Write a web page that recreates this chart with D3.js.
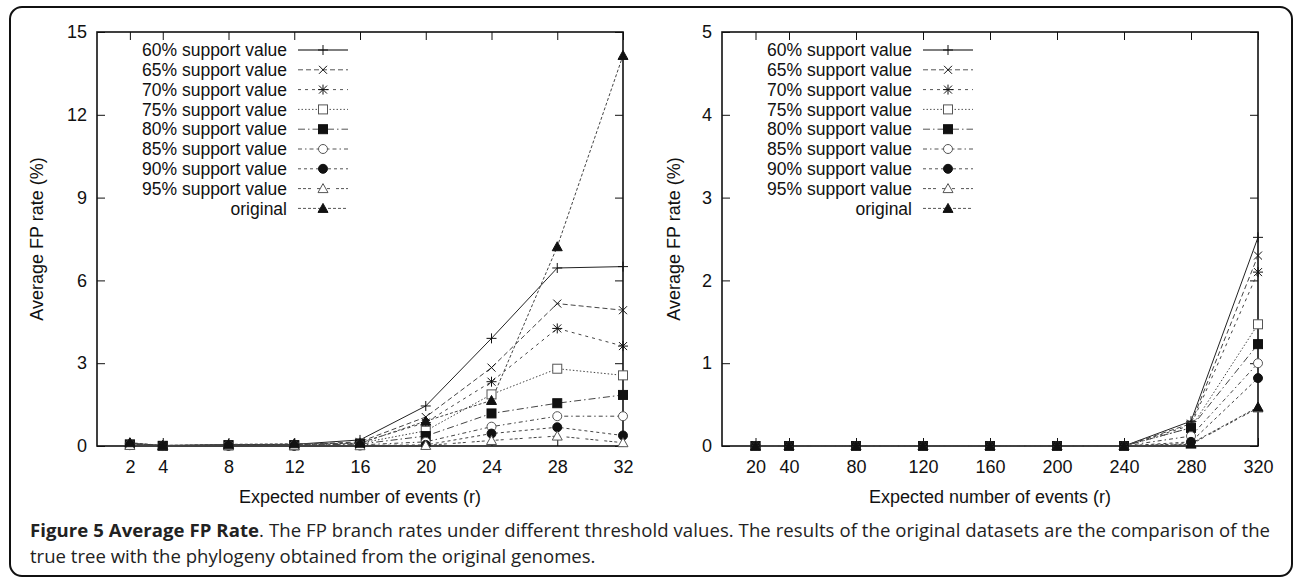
<!DOCTYPE html>
<html>
<head>
<meta charset="utf-8">
<script src="https://cdn.jsdelivr.net/npm/d3@7"></script>
<style>
body { margin: 0; background: #fff; }
svg { display: block; }
</style>
</head>
<body>
<div id="chart"></div>
<script>
//Datos
const seriesNames = ['60% support value', '65% support value', '70% support value', '75% support value',
    '80% support value', '85% support value', '90% support value', '95% support value', 'original'];

//Panel izquierdo
const leftEvents = [2, 4, 8, 12, 16, 20, 24, 28, 32];
const left60 = [0.10, 0.02, 0.05, 0.06, 0.22, 1.45, 3.90, 6.45, 6.50];
const left65 = [0.08, 0.01, 0.04, 0.05, 0.15, 1.05, 2.84, 5.16, 4.92];
const left70 = [0.07, 0.01, 0.04, 0.04, 0.12, 0.85, 2.33, 4.26, 3.62];
const left75 = [0.06, 0.01, 0.03, 0.03, 0.10, 0.55, 1.87, 2.80, 2.56];
const left80 = [0.05, 0.00, 0.03, 0.03, 0.07, 0.36, 1.18, 1.55, 1.85];
const left85 = [0.04, 0.00, 0.02, 0.02, 0.04, 0.15, 0.70, 1.08, 1.08];
const left90 = [0.03, 0.00, 0.01, 0.01, 0.02, 0.04, 0.45, 0.68, 0.38];
const left95 = [0.02, 0.00, 0.01, 0.01, 0.01, 0.02, 0.20, 0.36, 0.12];
const leftOrig = [0.12, 0.02, 0.06, 0.08, 0.10, 0.90, 1.65, 7.22, 14.15];
const leftYTicks = [0, 3, 6, 9, 12, 15];

//Panel derecho
const rightEvents = [20, 40, 80, 120, 160, 200, 240, 280, 320];
const right60 = [0, 0, 0, 0, 0, 0, 0, 0.30, 2.52];
const right65 = [0, 0, 0, 0, 0, 0, 0, 0.27, 2.30];
const right70 = [0, 0, 0, 0, 0, 0, 0, 0.25, 2.10];
const right75 = [0, 0, 0, 0, 0, 0, 0, 0.22, 1.47];
const right80 = [0, 0, 0, 0, 0, 0, 0, 0.22, 1.23];
const right85 = [0, 0, 0, 0, 0, 0, 0, 0.12, 1.00];
const right90 = [0, 0, 0, 0, 0, 0, 0, 0.05, 0.82];
const right95 = [0, 0, 0, 0, 0, 0, 0, 0.02, 0.46];
const rightOrig = [0, 0, 0, 0, 0, 0, 0, 0.03, 0.47];
const rightYTicks = [0, 1, 2, 3, 4, 5];

//Estilos de línea y símbolos (tipo gnuplot)
const DASHES = [null, '5,3', '3,4', '1.5,2', '7,3,1.5,3', '4,3,1.5,3', '3,3', '3,2,3,2,3,6', '3,2'];
const SYMBOLS = ['plus', 'cross', 'star', 'box', 'boxF', 'circle', 'circleF', 'tri', 'triF'];
const FONT = '"Liberation Sans", Arial, sans-serif';

let width = 1295, height = 579;

let svg = d3.select('#chart')
    .append('svg')
        .attr('width', width)
        .attr('height', height);

//Marco redondeado
svg.append('rect')
    .attr('x', 10).attr('y', 7)
    .attr('width', 1282).attr('height', 569)
    .attr('rx', 12).attr('ry', 12)
    .attr('fill', 'none')
    .attr('stroke', '#111')
    .attr('stroke-width', 2);

function drawSymbol(g, type, cx, cy) {
    let s = g.append('g').attr('transform', 'translate(' + cx + ',' + cy + ')');
    if (type == 'plus' || type == 'star') {
        s.append('path').attr('d', 'M-5,0H5M0,-5V5').attr('stroke', '#111').attr('fill', 'none');
    }
    if (type == 'cross' || type == 'star') {
        s.append('path').attr('d', 'M-4,-4L4,4M-4,4L4,-4').attr('stroke', '#111').attr('fill', 'none');
    }
    if (type == 'box' || type == 'boxF') {
        s.append('rect').attr('x', -4.5).attr('y', -4.5).attr('width', 9).attr('height', 9)
            .attr('stroke', type == 'box' ? '#555' : '#111')
            .attr('fill', type == 'box' ? '#fff' : '#111');
    }
    if (type == 'circle' || type == 'circleF') {
        s.append('circle').attr('r', 4.5)
            .attr('stroke', type == 'circle' ? '#555' : '#111')
            .attr('fill', type == 'circle' ? '#fff' : '#111');
    }
    if (type == 'tri' || type == 'triF') {
        s.append('path').attr('d', 'M0,-5L5,4H-5Z')
            .attr('stroke', type == 'tri' ? '#555' : '#111')
            .attr('fill', type == 'tri' ? '#fff' : '#111');
    }
}

function drawPanel(cfg) {
    let x = d3.scaleLinear().domain(cfg.xDomain).range([cfg.left, cfg.right]);
    let y = d3.scaleLinear().domain(cfg.yDomain).range([446, 32]);
    let g = svg.append('g');

    //Ejes con marcas hacia dentro (y espejo)
    g.append('g')
        .attr('transform', 'translate(0,446)')
        .call(d3.axisBottom(x).tickValues(cfg.xValues).tickSizeInner(-8).tickSizeOuter(0).tickPadding(14))
        .call(function(a) {
            a.select('.domain').remove();
            a.selectAll('text').attr('font-family', FONT).attr('font-size', '18px').attr('fill', '#111');
            a.selectAll('line').attr('stroke', '#111');
        });
    g.append('g')
        .attr('transform', 'translate(0,32)')
        .call(d3.axisTop(x).tickValues(cfg.xValues).tickSizeInner(-8).tickSizeOuter(0).tickFormat(''))
        .call(function(a) {
            a.select('.domain').remove();
            a.selectAll('line').attr('stroke', '#111');
        });
    g.append('g')
        .attr('transform', 'translate(' + cfg.left + ',0)')
        .call(d3.axisLeft(y).tickValues(cfg.yTicks).tickFormat(d3.format('d')).tickSizeInner(-8).tickSizeOuter(0).tickPadding(10))
        .call(function(a) {
            a.select('.domain').remove();
            a.selectAll('text').attr('font-family', FONT).attr('font-size', '18px').attr('fill', '#111');
            a.selectAll('line').attr('stroke', '#111');
        });
    g.append('g')
        .attr('transform', 'translate(' + cfg.right + ',0)')
        .call(d3.axisRight(y).tickValues(cfg.yTicks).tickSizeInner(-8).tickSizeOuter(0).tickFormat(''))
        .call(function(a) {
            a.select('.domain').remove();
            a.selectAll('line').attr('stroke', '#111');
        });

    //Caja del gráfico
    g.append('rect')
        .attr('x', cfg.left).attr('y', 32)
        .attr('width', cfg.right - cfg.left).attr('height', 414)
        .attr('fill', 'none').attr('stroke', '#111').attr('stroke-width', 1.6);

    //Títulos de ejes
    g.append('text')
        .attr('x', (cfg.left + cfg.right) / 2).attr('y', 503)
        .attr('text-anchor', 'middle')
        .attr('font-family', FONT).attr('font-size', '18px').attr('fill', '#111')
        .text('Expected number of events (r)');
    g.append('text')
        .attr('transform', 'translate(' + cfg.yLabelX + ',239) rotate(-90)')
        .attr('text-anchor', 'middle')
        .attr('dy', '0.35em')
        .attr('font-family', FONT).attr('font-size', '18px').attr('fill', '#111')
        .text('Average FP rate (%)');

    //Líneas
    let line = d3.line()
        .x(function(d) { return x(d[0]); })
        .y(function(d) { return y(d[1]); });

    cfg.series.forEach(function(vals, i) {
        let pts = cfg.xValues.map(function(v, j) { return [v, vals[j]]; });
        g.append('path')
            .datum(pts)
            .attr('d', line)
            .attr('fill', 'none')
            .attr('stroke', i == 0 ? '#222' : '#444')
            .attr('stroke-width', 1)
            .attr('stroke-dasharray', DASHES[i]);
    });
    cfg.series.forEach(function(vals, i) {
        cfg.xValues.forEach(function(v, j) {
            drawSymbol(g, SYMBOLS[i], x(v), y(vals[j]));
        });
    });

    //Leyenda
    seriesNames.forEach(function(name, i) {
        let ly = 50 + i * 19.8;
        let lx = cfg.left + 190;
        g.append('text')
            .attr('x', lx).attr('y', ly)
            .attr('dy', '0.35em')
            .attr('text-anchor', 'end')
            .attr('font-family', FONT).attr('font-size', '17.5px').attr('fill', '#111')
            .text(name);
        g.append('line')
            .attr('x1', lx + 11).attr('x2', lx + 61)
            .attr('y1', ly).attr('y2', ly)
            .attr('stroke', '#555').attr('stroke-width', i == 0 ? 1.5 : 1)
            .attr('stroke-dasharray', DASHES[i]);
        drawSymbol(g, SYMBOLS[i], lx + 36, ly);
    });
}

drawPanel({
    left: 97, right: 623, xDomain: [0, 32], xValues: leftEvents,
    yDomain: [0, 15], yTicks: leftYTicks, yLabelX: 37,
    series: [left60, left65, left70, left75, left80, left85, left90, left95, leftOrig]
});

drawPanel({
    left: 722, right: 1258, xDomain: [0, 320], xValues: rightEvents,
    yDomain: [0, 5], yTicks: rightYTicks, yLabelX: 674,
    series: [right60, right65, right70, right75, right80, right85, right90, right95, rightOrig]
});

//Pie de figura (segunda línea ajustada al ancho del original, la primera justificada)
let cap2 = svg.append('text')
    .attr('x', 30).attr('y', 563)
    .attr('font-family', '"Open Sans", sans-serif').attr('font-size', '17.5px').attr('fill', '#222')
    .text('true tree with the phylogeny obtained from the original genomes.');
let capSize = 17.5 * 566 / cap2.node().getComputedTextLength();
cap2.attr('font-size', capSize + 'px');

let cap = svg.append('text')
    .attr('x', 30).attr('y', 537)
    .attr('font-family', '"Open Sans", sans-serif').attr('font-size', capSize + 'px').attr('fill', '#222')
    .attr('textLength', 1240).attr('lengthAdjust', 'spacing');
cap.append('tspan').attr('font-weight', 'bold').text('Figure 5 Average FP Rate');
cap.append('tspan').text('. The FP branch rates under different threshold values. The results of the original datasets are the comparison of the');
</script>
</body>
</html>
